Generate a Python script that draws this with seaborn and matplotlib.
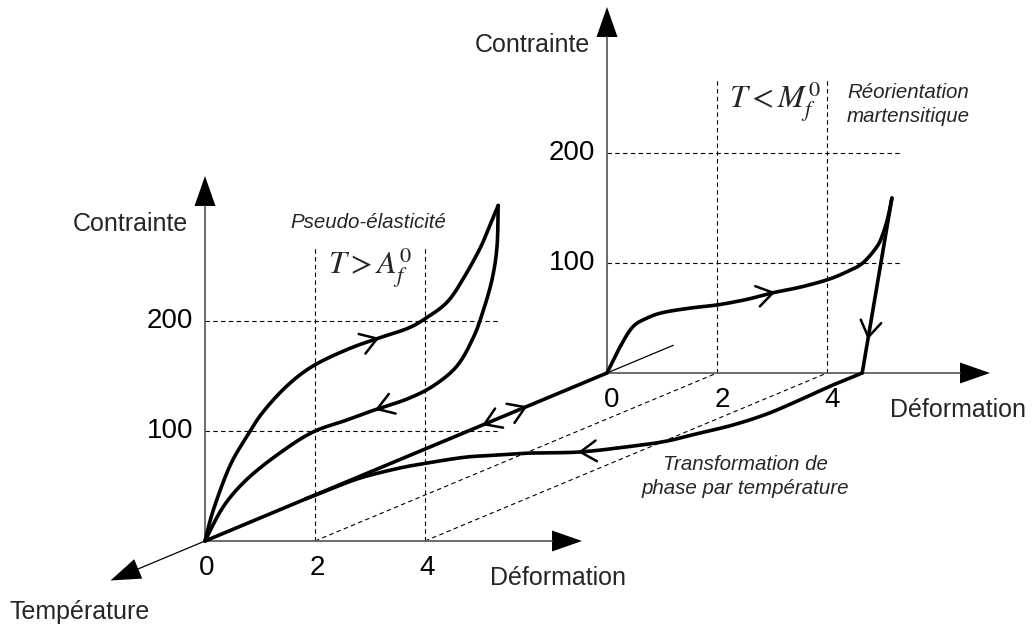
import numpy as np
import matplotlib.pyplot as plt
import seaborn as sns
from matplotlib.patches import Polygon

sns.set_theme(style="white")
plt.rcParams['font.family'] = ['Liberation Sans', 'DejaVu Sans']
plt.rcParams['mathtext.fontset'] = 'stix'

# front plane (T > Af): pseudo-elastic loop, strain (%) / stress (MPa)
front_load_strain = [0, 0.15, 0.45, 0.76, 1.05, 1.49, 1.96, 2.58, 3.13, 3.67, 4.0, 4.4, 4.69, 5.0, 5.18, 5.33]
front_load_stress = [0, 28, 68, 95, 117, 141, 159, 174, 184, 193, 202, 217, 238, 266, 287, 305]
front_unload_strain = [5.33, 5.31, 5.22, 5.05, 4.87, 4.58, 4.15, 3.67, 3.13, 2.58, 1.96, 1.36, 0.76, 0.33, 0]
front_unload_stress = [305, 268, 238, 208, 184, 159, 141, 129, 120, 110, 99, 80, 56, 31, 0]

# back plane (T < Mf): martensite reorientation
back_load_strain = [0, 0.24, 0.47, 0.73, 1.02, 1.51, 2.02, 2.55, 3.02, 3.51, 4.02, 4.36, 4.65, 4.91, 5.02, 5.11, 5.18]
back_load_stress = [0, 24, 42, 50, 55, 59, 62, 67, 73, 78, 85, 92, 100, 115, 127, 142, 159]
back_unload_strain = [5.18, 4.64]
back_unload_stress = [159, 0]

# zero-stress plane: recovery on heating (temperature 1 = cold/back, 0 = hot/front)
heat_strain = [4.64, 4.63, 4.68, 4.69, 4.55, 4.30, 4.05, 3.65, 2.95, 2.13, 1.62, 1.11, 0.71, 0.37, 0.08, 0.02, 0]
heat_temp = [1.0, 0.929, 0.839, 0.756, 0.69, 0.643, 0.595, 0.565, 0.53, 0.524, 0.512, 0.5, 0.47, 0.435, 0.375, 0.3, 0.25]

strain_ticks = [0, 2, 4]
stress_ticks = [100, 200]

ORIGIN = np.array([205.0, 541.0])
PX_STRAIN = 55.0
PX_STRESS = 1.1
TEMP_VEC = np.array([402.0, -168.0])


def proj(e, s, t=0.0):
    e = np.asarray(e, float)
    s = np.asarray(s, float)
    x = ORIGIN[0] + PX_STRAIN * e + TEMP_VEC[0] * t
    y = ORIGIN[1] - PX_STRESS * s + TEMP_VEC[1] * t
    return x, y


def smooth(x, y, n=14):
    # catmull-rom through the read points, only for drawing
    p = np.column_stack([x, y])
    p = np.vstack([p[0], p, p[-1]])
    out = []
    for i in range(1, len(p) - 2):
        p0, p1, p2, p3 = p[i - 1], p[i], p[i + 1], p[i + 2]
        for u in np.linspace(0, 1, n, endpoint=False):
            out.append(0.5 * ((2 * p1) + (-p0 + p2) * u + (2 * p0 - 5 * p1 + 4 * p2 - p3) * u ** 2
                              + (-p0 + 3 * p1 - 3 * p2 + p3) * u ** 3))
    out.append(p[-2])
    out = np.array(out)
    return out[:, 0], out[:, 1]


def thick(ax, x, y):
    sns.lineplot(x=x, y=y, sort=False, estimator=None, color='black', linewidth=2.6,
                 solid_capstyle='round', solid_joinstyle='round', ax=ax)


def chevron(ax, x, y, tx, ty, reverse=False, size=19, ang=33):
    i = int(np.argmin((x - tx) ** 2 + (y - ty) ** 2))
    i = min(max(i, 1), len(x) - 2)
    d = np.array([x[i + 1] - x[i - 1], y[i + 1] - y[i - 1]])
    if reverse:
        d = -d
    d = d / np.hypot(*d)
    for a in (ang, -ang):
        r = np.radians(180 + a)
        v = np.array([d[0] * np.cos(r) - d[1] * np.sin(r), d[0] * np.sin(r) + d[1] * np.cos(r)])
        ax.plot([x[i], x[i] + size * v[0]], [y[i], y[i] + size * v[1]], color='black', lw=1.8,
                solid_capstyle='round')


def axis_arrow(ax, start, end, head_len=30, head_w=21, color='#606060', lw=1.3):
    start = np.array(start, float)
    end = np.array(end, float)
    d = (end - start) / np.hypot(*(end - start))
    base = end - head_len * d
    nrm = np.array([-d[1], d[0]])
    ax.plot([start[0], base[0]], [start[1], base[1]], color=color, lw=lw)
    ax.add_patch(Polygon([end, base + nrm * head_w / 2, base - nrm * head_w / 2],
                         closed=True, color='black', lw=0))


fig = plt.figure(figsize=(10.32, 6.27), dpi=100)
ax = fig.add_axes([0, 0, 1, 1])

dash = dict(color='black', lw=0.8, linestyle=(0, (4, 3)))

# dashed grid, both planes
for t, top in ((0.0, 268), (1.0, 266)):
    for e in strain_ticks[1:]:
        x, y = proj([e, e], [0, top], t)
        ax.plot(x, y, **dash)
    for s in stress_ticks:
        x, y = proj([0, 5.34], [s, s], t)
        ax.plot(x, y, **dash)
# dashed links between planes
for e in strain_ticks[1:]:
    x0, y0 = proj(e, 0, 0.0)
    x1, y1 = proj(e, 0, 1.0)
    ax.plot([x0, x1], [y0, y1], **dash)

# axes
o0 = proj(0, 0, 0.0)
o1 = proj(0, 0, 1.0)
axis_arrow(ax, o0, (o0[0], 176))
axis_arrow(ax, o0, (582, o0[1]))
axis_arrow(ax, o1, (o1[0], 7))
axis_arrow(ax, o1, (990, o1[1]))
axis_arrow(ax, o0, proj(0, 0, -0.235), color='black', lw=0.9)
xe, ye = proj([0, 0], [0, 0], np.array([1.0, 1.165]))
ax.plot(xe, ye, color='black', lw=0.9)

# curves
fx, fy = smooth(*proj(front_load_strain, front_load_stress, 0.0))
thick(ax, fx, fy)
chevron(ax, fx, fy, 377, 340)
ux, uy = smooth(*proj(front_unload_strain, front_unload_stress, 0.0))
thick(ax, ux, uy)
chevron(ax, ux, uy, 377, 410)

bx, by = smooth(*proj(back_load_strain, back_load_stress, 1.0))
thick(ax, bx, by)
chevron(ax, bx, by, 773, 293)
dx, dy = proj(back_unload_strain, back_unload_stress, 1.0)
dx, dy = np.linspace(dx[0], dx[1], 40), np.linspace(dy[0], dy[1], 40)
thick(ax, dx, dy)
chevron(ax, dx, dy, 869, 337)

hx, hy = smooth(*proj(heat_strain, np.zeros(len(heat_strain)), np.array(heat_temp)))
thick(ax, hx, hy)
chevron(ax, hx, hy, 580, 452)

tline = np.linspace(0, 1, 60)
lx, ly = proj(np.zeros(60), np.zeros(60), tline)
thick(ax, lx, ly)
chevron(ax, lx, ly, 483, 423, reverse=True)
chevron(ax, lx, ly, 527, 405)

# tick labels
tick_fs = 20
for t, dxo in ((0.0, 2), (1.0, 5)):
    for e in strain_ticks:
        x, y = proj(e, 0, t)
        ax.text(x + dxo, y + 27, str(e), ha='center', va='center', fontsize=tick_fs, color='black')
    for s in stress_ticks:
        x, y = proj(0, s, t)
        ax.text(x - 12, y, str(s), ha='right', va='center', fontsize=tick_fs, color='black')

lab_fs = 18
ax.text(188, 224, 'Contrainte', ha='right', va='center', fontsize=lab_fs)
ax.text(590, 45, 'Contrainte', ha='right', va='center', fontsize=lab_fs)
ax.text(490, 578, 'Déformation', ha='left', va='center', fontsize=lab_fs)
ax.text(890, 410, 'Déformation', ha='left', va='center', fontsize=lab_fs)
ax.text(10, 612, 'Température', ha='left', va='center', fontsize=lab_fs)

note_fs = 14.8
ax.text(368, 222, 'Pseudo-élasticité', ha='center', va='center', fontsize=note_fs, style='italic')
ax.text(847, 93, 'Réorientation', ha='left', va='center', fontsize=note_fs, style='italic')
ax.text(847, 116, 'martensitique', ha='left', va='center', fontsize=note_fs, style='italic')
ax.text(745, 465, 'Transformation de', ha='center', va='center', fontsize=note_fs, style='italic')
ax.text(745, 489, 'phase par température', ha='center', va='center', fontsize=note_fs, style='italic')
ax.text(370, 268, r'$T > A_f^{0}$', ha='center', va='center', fontsize=23)
ax.text(775, 102, r'$T < M_f^{0}$', ha='center', va='center', fontsize=23)

ax.set_xlim(0, 1032)
ax.set_ylim(627, 0)
ax.axis('off')

fig.savefig('out.png', dpi=100)
